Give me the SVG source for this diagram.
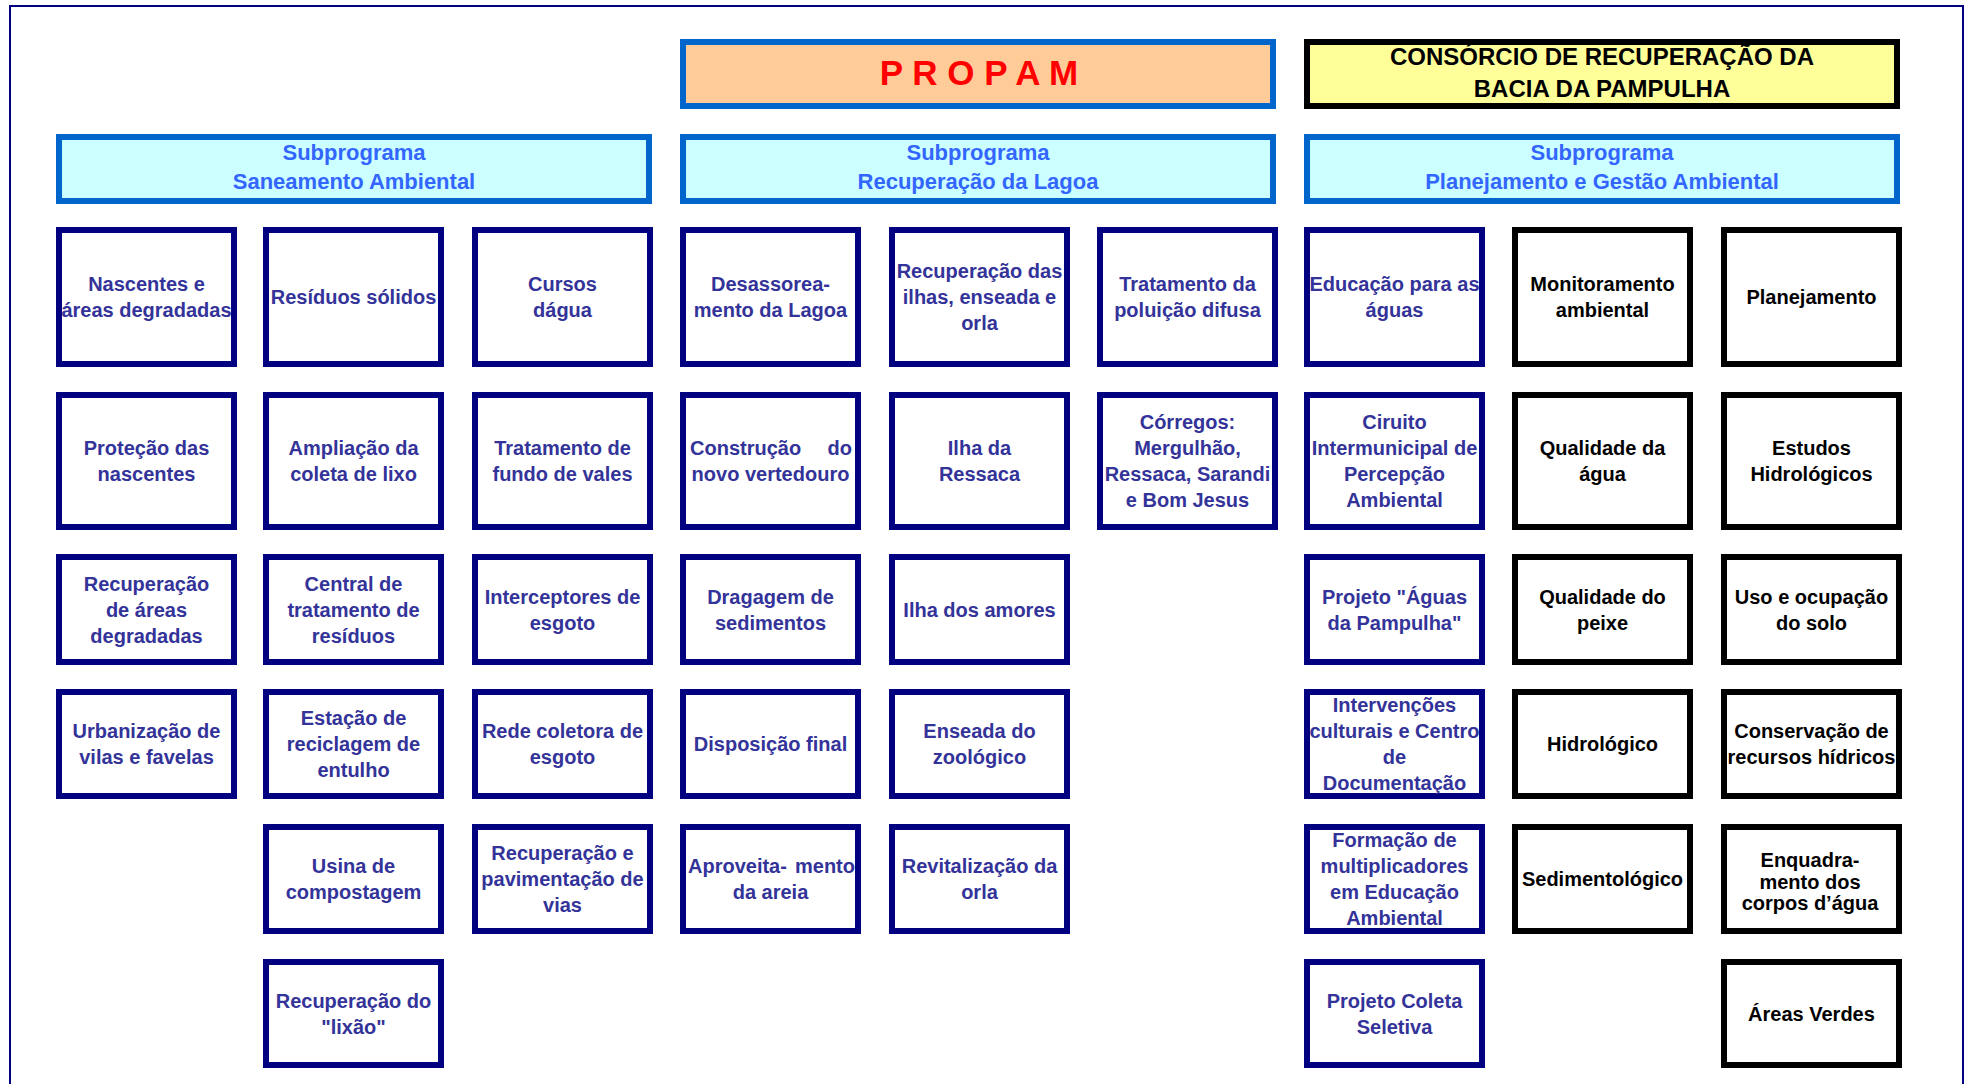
<svg xmlns="http://www.w3.org/2000/svg" width="1968" height="1084" viewBox="0 0 1968 1084">
<style>
text{font-family:"Liberation Sans",Arial,sans-serif;font-weight:bold;text-anchor:middle}
.bx{fill:#fff;stroke:#000080;stroke-width:6}
.bk{fill:#fff;stroke:#000;stroke-width:6}
.t{font-size:20px;fill:#333399}
.tk{font-size:20px;fill:#000}
.sub{fill:#CCFFFF;stroke:#0066CC;stroke-width:6}
.st{font-size:22px;fill:#3366FF}
</style>
<rect x="0" y="0" width="1968" height="1084" fill="#fff"/>
<rect id="frame" x="10" y="6" width="1953" height="1090" fill="none" stroke="#000080" stroke-width="2"/>

<g id="propam">
<rect x="683" y="42" width="590" height="64" fill="#FFCC99" stroke="#0066CC" stroke-width="6"/>
<text x="979" y="85" font-size="35" fill="#FF0000">P R O P A M</text>
</g>
<g id="consorcio">
<rect x="1307" y="42" width="590" height="64" fill="#FFFF99" stroke="#000" stroke-width="6"/>
<text x="1602" y="65" font-size="24" fill="#000">CONSÓRCIO DE RECUPERAÇÃO DA</text>
<text x="1602" y="97" font-size="24" fill="#000">BACIA DA PAMPULHA</text>
</g>

<g id="sub-saneamento">
<rect class="sub" x="59" y="137" width="590" height="64"/>
<text class="st" x="354" y="160">Subprograma</text>
<text class="st" x="354" y="189">Saneamento Ambiental</text>
</g>
<g id="sub-lagoa">
<rect class="sub" x="683" y="137" width="590" height="64"/>
<text class="st" x="978" y="160">Subprograma</text>
<text class="st" x="978" y="189">Recuperação da Lagoa</text>
</g>
<g id="sub-planejamento">
<rect class="sub" x="1307" y="137" width="590" height="64"/>
<text class="st" x="1602" y="160">Subprograma</text>
<text class="st" x="1602" y="189">Planejamento e Gestão Ambiental</text>
</g>

<g id="connectors"></g>

<!-- Column 1 -->
<g id="c1r1"><rect class="bx" x="59" y="230" width="175" height="134"/>
<text class="t" x="146.5" y="291">Nascentes e</text><text class="t" x="146.5" y="317">áreas degradadas</text></g>
<g id="c1r2"><rect class="bx" x="59" y="395" width="175" height="132"/>
<text class="t" x="146.5" y="455">Proteção das</text><text class="t" x="146.5" y="481">nascentes</text></g>
<g id="c1r3"><rect class="bx" x="59" y="557" width="175" height="105"/>
<text class="t" x="146.5" y="590.5">Recuperação</text><text class="t" x="146.5" y="616.5">de áreas</text><text class="t" x="146.5" y="642.5">degradadas</text></g>
<g id="c1r4"><rect class="bx" x="59" y="692" width="175" height="104"/>
<text class="t" x="146.5" y="738">Urbanização de</text><text class="t" x="146.5" y="764">vilas e favelas</text></g>

<!-- Column 2 -->
<g id="c2r1"><rect class="bx" x="266" y="230" width="175" height="134"/>
<text class="t" x="353.5" y="304">Resíduos sólidos</text></g>
<g id="c2r2"><rect class="bx" x="266" y="395" width="175" height="132"/>
<text class="t" x="353.5" y="455">Ampliação da</text><text class="t" x="353.5" y="481">coleta de lixo</text></g>
<g id="c2r3"><rect class="bx" x="266" y="557" width="175" height="105"/>
<text class="t" x="353.5" y="590.5">Central de</text><text class="t" x="353.5" y="616.5">tratamento de</text><text class="t" x="353.5" y="642.5">resíduos</text></g>
<g id="c2r4"><rect class="bx" x="266" y="692" width="175" height="104"/>
<text class="t" x="353.5" y="725">Estação de</text><text class="t" x="353.5" y="751">reciclagem de</text><text class="t" x="353.5" y="777">entulho</text></g>
<g id="c2r5"><rect class="bx" x="266" y="827" width="175" height="104"/>
<text class="t" x="353.5" y="873">Usina de</text><text class="t" x="353.5" y="899">compostagem</text></g>
<g id="c2r6"><rect class="bx" x="266" y="962" width="175" height="103"/>
<text class="t" x="353.5" y="1007.5">Recuperação do</text><text class="t" x="353.5" y="1033.5">"lixão"</text></g>

<!-- Column 3 -->
<g id="c3r1"><rect class="bx" x="475" y="230" width="175" height="134"/>
<text class="t" x="562.5" y="291">Cursos</text><text class="t" x="562.5" y="317">dágua</text></g>
<g id="c3r2"><rect class="bx" x="475" y="395" width="175" height="132"/>
<text class="t" x="562.5" y="455">Tratamento de</text><text class="t" x="562.5" y="481">fundo de vales</text></g>
<g id="c3r3"><rect class="bx" x="475" y="557" width="175" height="105"/>
<text class="t" x="562.5" y="603.5">Interceptores de</text><text class="t" x="562.5" y="629.5">esgoto</text></g>
<g id="c3r4"><rect class="bx" x="475" y="692" width="175" height="104"/>
<text class="t" x="562.5" y="738">Rede coletora de</text><text class="t" x="562.5" y="764">esgoto</text></g>
<g id="c3r5"><rect class="bx" x="475" y="827" width="175" height="104"/>
<text class="t" x="562.5" y="860">Recuperação e</text><text class="t" x="562.5" y="886">pavimentação de</text><text class="t" x="562.5" y="912">vias</text></g>

<!-- Column 4 -->
<g id="c4r1"><rect class="bx" x="683" y="230" width="175" height="134"/>
<text class="t" x="770.5" y="291">Desassorea-</text><text class="t" x="770.5" y="317">mento da Lagoa</text></g>
<g id="c4r2"><rect class="bx" x="683" y="395" width="175" height="132"/>
<text class="t" y="455"><tspan x="690" text-anchor="start">Construção</tspan> <tspan x="852" text-anchor="end">do</tspan></text>
<text class="t" x="770.5" y="481">novo vertedouro</text></g>
<g id="c4r3"><rect class="bx" x="683" y="557" width="175" height="105"/>
<text class="t" x="770.5" y="603.5">Dragagem de</text><text class="t" x="770.5" y="629.5">sedimentos</text></g>
<g id="c4r4"><rect class="bx" x="683" y="692" width="175" height="104"/>
<text class="t" x="770.5" y="751">Disposição final</text></g>
<g id="c4r5"><rect class="bx" x="683" y="827" width="175" height="104"/>
<text class="t" y="873"><tspan x="688" text-anchor="start">Aproveita-</tspan> <tspan x="855" text-anchor="end">mento</tspan></text>
<text class="t" x="770.5" y="899">da areia</text></g>

<!-- Column 5 -->
<g id="c5r1"><rect class="bx" x="892" y="230" width="175" height="134"/>
<text class="t" x="979.5" y="278">Recuperação das</text><text class="t" x="979.5" y="304">ilhas, enseada e</text><text class="t" x="979.5" y="330">orla</text></g>
<g id="c5r2"><rect class="bx" x="892" y="395" width="175" height="132"/>
<text class="t" x="979.5" y="455">Ilha da</text><text class="t" x="979.5" y="481">Ressaca</text></g>
<g id="c5r3"><rect class="bx" x="892" y="557" width="175" height="105"/>
<text class="t" x="979.5" y="616.5">Ilha dos amores</text></g>
<g id="c5r4"><rect class="bx" x="892" y="692" width="175" height="104"/>
<text class="t" x="979.5" y="738">Enseada do</text><text class="t" x="979.5" y="764">zoológico</text></g>
<g id="c5r5"><rect class="bx" x="892" y="827" width="175" height="104"/>
<text class="t" x="979.5" y="873">Revitalização da</text><text class="t" x="979.5" y="899">orla</text></g>

<!-- Column 6 -->
<g id="c6r1"><rect class="bx" x="1100" y="230" width="175" height="134"/>
<text class="t" x="1187.5" y="291">Tratamento da</text><text class="t" x="1187.5" y="317">poluição difusa</text></g>
<g id="c6r2"><rect class="bx" x="1100" y="395" width="175" height="132"/>
<text class="t" x="1187.5" y="429">Córregos:</text><text class="t" x="1187.5" y="455">Mergulhão,</text><text class="t" x="1187.5" y="481">Ressaca, Sarandi</text><text class="t" x="1187.5" y="507">e Bom Jesus</text></g>

<!-- Column 7 -->
<g id="c7r1"><rect class="bx" x="1307" y="230" width="175" height="134"/>
<text class="t" x="1394.5" y="291">Educação para as</text><text class="t" x="1394.5" y="317">águas</text></g>
<g id="c7r2"><rect class="bx" x="1307" y="395" width="175" height="132"/>
<text class="t" x="1394.5" y="429">Ciruito</text><text class="t" x="1394.5" y="455">Intermunicipal de</text><text class="t" x="1394.5" y="481">Percepção</text><text class="t" x="1394.5" y="507">Ambiental</text></g>
<g id="c7r3"><rect class="bx" x="1307" y="557" width="175" height="105"/>
<text class="t" x="1394.5" y="603.5">Projeto "Águas</text><text class="t" x="1394.5" y="629.5">da Pampulha"</text></g>
<g id="c7r4"><rect class="bx" x="1307" y="692" width="175" height="104"/>
<text class="t" x="1394.5" y="712">Intervenções</text><text class="t" x="1394.5" y="738">culturais e Centro</text><text class="t" x="1394.5" y="764">de</text><text class="t" x="1394.5" y="790">Documentação</text></g>
<g id="c7r5"><rect class="bx" x="1307" y="827" width="175" height="104"/>
<text class="t" x="1394.5" y="847">Formação de</text><text class="t" x="1394.5" y="873">multiplicadores</text><text class="t" x="1394.5" y="899">em Educação</text><text class="t" x="1394.5" y="925">Ambiental</text></g>
<g id="c7r6"><rect class="bx" x="1307" y="962" width="175" height="103"/>
<text class="t" x="1394.5" y="1007.5">Projeto Coleta</text><text class="t" x="1394.5" y="1033.5">Seletiva</text></g>

<!-- Column 8 -->
<g id="c8r1"><rect class="bk" x="1515" y="230" width="175" height="134"/>
<text class="tk" x="1602.5" y="291">Monitoramento</text><text class="tk" x="1602.5" y="317">ambiental</text></g>
<g id="c8r2"><rect class="bk" x="1515" y="395" width="175" height="132"/>
<text class="tk" x="1602.5" y="455">Qualidade da</text><text class="tk" x="1602.5" y="481">água</text></g>
<g id="c8r3"><rect class="bk" x="1515" y="557" width="175" height="105"/>
<text class="tk" x="1602.5" y="603.5">Qualidade do</text><text class="tk" x="1602.5" y="629.5">peixe</text></g>
<g id="c8r4"><rect class="bk" x="1515" y="692" width="175" height="104"/>
<text class="tk" x="1602.5" y="751">Hidrológico</text></g>
<g id="c8r5"><rect class="bk" x="1515" y="827" width="175" height="104"/>
<text class="tk" x="1602.5" y="886">Sedimentológico</text></g>

<!-- Column 9 -->
<g id="c9r1"><rect class="bk" x="1724" y="230" width="175" height="134"/>
<text class="tk" x="1811.5" y="304">Planejamento</text></g>
<g id="c9r2"><rect class="bk" x="1724" y="395" width="175" height="132"/>
<text class="tk" x="1811.5" y="455">Estudos</text><text class="tk" x="1811.5" y="481">Hidrológicos</text></g>
<g id="c9r3"><rect class="bk" x="1724" y="557" width="175" height="105"/>
<text class="tk" x="1811.5" y="603.5">Uso e ocupação</text><text class="tk" x="1811.5" y="629.5">do solo</text></g>
<g id="c9r4"><rect class="bk" x="1724" y="692" width="175" height="104"/>
<text class="tk" x="1811.5" y="738">Conservação de</text><text class="tk" x="1811.5" y="764">recursos hídricos</text></g>
<g id="c9r5"><rect class="bk" x="1724" y="827" width="175" height="104"/>
<text class="tk" x="1810" y="867" font-size="18">Enquadra-</text><text class="tk" x="1810" y="888.5" font-size="18">mento dos</text><text class="tk" x="1810" y="910" font-size="18">corpos d’água</text></g>
<g id="c9r6"><rect class="bk" x="1724" y="962" width="175" height="103"/>
<text class="tk" x="1811.5" y="1020.5">Áreas Verdes</text></g>
</svg>
